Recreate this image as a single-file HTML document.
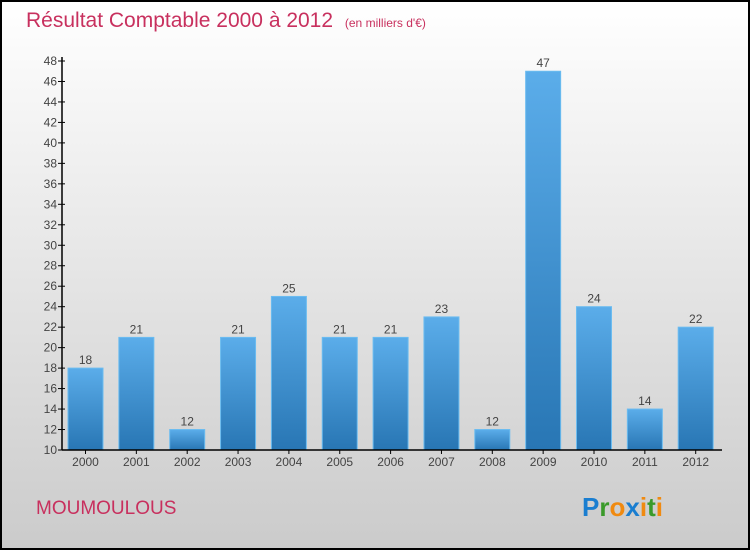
<!DOCTYPE html>
<html><head><meta charset="utf-8"><style>
body{margin:0;width:750px;height:550px;overflow:hidden;font-family:"Liberation Sans",sans-serif}
svg{display:block}
</style></head><body>
<svg id="c" width="750" height="550">
<defs>
<linearGradient id="bg" x1="0" y1="0" x2="0" y2="1"><stop offset="0" stop-color="#ffffff"/><stop offset="1" stop-color="#cbcbcb"/></linearGradient>
<linearGradient id="bar" x1="0" y1="0" x2="0" y2="1"><stop offset="0" stop-color="#5badea"/><stop offset="1" stop-color="#2876b4"/></linearGradient>
</defs>
<rect x="1" y="1" width="748" height="548" fill="url(#bg)" stroke="#000" stroke-width="2"/>
<text x="26" y="27" font-size="21" fill="#c8305e">Résultat Comptable 2000 à 2012 <tspan font-size="12" dx="6">(en milliers d'€)</tspan></text>
<text x="36" y="514" font-size="19" fill="#c8305e">MOUMOULOUS</text>
<text x="582" y="516" font-size="26" font-weight="bold"><tspan fill="#1a7ed0">P</tspan><tspan fill="#3a9a2a">r</tspan><tspan fill="#f08a10">o</tspan><tspan fill="#1a7ed0">x</tspan><tspan fill="#f08a10">i</tspan><tspan fill="#3a9a2a">t</tspan><tspan fill="#f08a10">i</tspan></text>
<g id="plot"></g>
</svg>
<script>
const years=["2000","2001","2002","2003","2004","2005","2006","2007","2008","2009","2010","2011","2012"];
const values=[18,21,12,21,25,21,21,23,12,47,24,14,22];
const yTicks=[10,12,14,16,18,20,22,24,26,28,30,32,34,36,38,40,42,44,46,48];
const NS="http://www.w3.org/2000/svg";
const g=document.getElementById('plot');
const y0=450,y1=61,vmin=10,vmax=48;
function yS(v){return y0-(v-vmin)/(vmax-vmin)*(y0-y1);}
const xL=62,step=50.85;
function xS(i){return 85.5+i*step;}
function mk(t,a){const e=document.createElementNS(NS,t);for(const k in a)e.setAttribute(k,a[k]);g.appendChild(e);return e;}
yTicks.forEach(v=>{
 const y=yS(v);
 const l=mk('line',{x1:xL-4,x2:xL+3,y1:y,y2:y,stroke:'#000'});
 
 
 const t=mk('text',{x:xL-5,y:y+4,'text-anchor':'end','font-size':12,fill:'#444'});
 t.textContent=v;
 
 
});
values.forEach((v,i)=>{
 const x=xS(i),y=yS(v);
 const r=mk('rect',{x:x-17.5,y:y,width:35,height:y0-y,fill:'url(#bar)',stroke:'#6bbcf0','stroke-width':1});
 
 
 const t=mk('text',{x:x,y:y-4,'text-anchor':'middle','font-size':12,fill:'#444'});
 t.textContent=v;
 
 
 const tk=mk('line',{x1:x,x2:x,y1:y0,y2:y0+4,stroke:'#000'});
 
 
 const xl=mk('text',{x:x,y:y0+16,'text-anchor':'middle','font-size':12,fill:'#444'});
 xl.textContent=years[i];
 
 
});
const ax=mk('line',{x1:xL,x2:xL,y1:y1-4,y2:y0,stroke:'#000','stroke-width':1.5});


const bx=mk('line',{x1:xL,x2:722,y1:y0,y2:y0,stroke:'#000','stroke-width':1.5});


</script>
</body></html>
